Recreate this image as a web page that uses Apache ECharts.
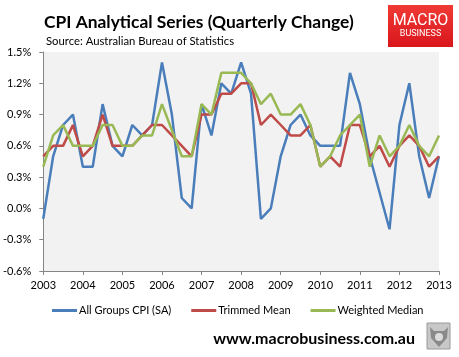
<!DOCTYPE html>
<html>
<head>
<meta charset="utf-8">
<script src="https://cdn.jsdelivr.net/npm/echarts@6/dist/echarts.min.js"></script>
<style>
html,body{margin:0;padding:0;background:#fff;}
#c{width:459px;height:357px;}
</style>
</head>
<body>
<div id="c"></div>
<script>
// Quarterly categories 2003 .. 2013 (41 quarters), labelled at each year
const years = ['2003','2004','2005','2006','2007','2008','2009','2010','2011','2012','2013'];
const quarters = [];
for (let y = 0; y < years.length; y++) {
  const nq = (y === years.length - 1) ? 1 : 4;
  for (let q = 0; q < nq; q++) quarters.push(q === 0 ? years[y] : years[y] + 'Q' + (q + 1));
}
const allGroupsCPI = [-0.1,0.5,0.8,0.9,0.4,0.4,1.0,0.6,0.5,0.8,0.7,0.8,1.4,0.9,0.1,0.0,1.0,0.7,1.2,1.1,1.4,1.1,-0.1,0.0,0.5,0.8,0.9,0.7,0.6,0.6,0.6,1.3,1.0,0.5,0.15,-0.2,0.8,1.2,0.5,0.1,0.5];
const trimmedMean = [0.5,0.6,0.6,0.8,0.5,0.6,0.9,0.6,0.6,0.6,0.7,0.8,0.8,0.7,0.6,0.5,0.9,0.9,1.1,1.1,1.2,1.2,0.8,0.9,0.8,0.7,0.7,0.8,0.4,0.5,0.4,0.8,0.8,0.5,0.6,0.4,0.6,0.7,0.6,0.4,0.5];
const weightedMedian = [0.4,0.7,0.8,0.6,0.6,0.6,0.8,0.8,0.6,0.6,0.7,0.7,1.0,0.75,0.5,0.5,1.0,0.9,1.3,1.3,1.3,1.2,1.0,1.1,0.9,0.9,1.0,0.8,0.4,0.5,0.7,0.8,0.9,0.4,0.7,0.5,0.6,0.8,0.6,0.5,0.7];
const seriesNames = ['All Groups CPI (SA)','Trimmed Mean','Weighted Median'];
const colors = ['#4a7ebb','#be4b48','#98b954'];

const FONT = 'Lato, "Open Sans", sans-serif';
const chart = echarts.init(document.getElementById('c'), null, {renderer:'canvas'});
chart.setOption({
  animation:false,
  title:[
    {text:'CPI Analytical Series (Quarterly Change)', left:39, top:9,
     textStyle:{fontFamily:FONT, fontSize:17.4, fontWeight:'bold', color:'#000'}},
    {text:'Source: Australian Bureau of Statistics', left:41, top:31,
     textStyle:{fontFamily:FONT, fontSize:11.3, fontWeight:'normal', color:'#000'}}
  ],
  grid:{left:43, right:20, top:52, bottom:86, show:true, backgroundColor:'#f2f2f2', borderWidth:0, containLabel:false},
  legend:{
    data:seriesNames, bottom:36, left:47, itemWidth:25, itemHeight:3, itemGap:20, icon:'rect',
    textStyle:{fontFamily:FONT, fontSize:11, color:'#000', padding:[0,0,0,-3]}
  },
  xAxis:[
    {type:'category', data:quarters, boundaryGap:false, position:'bottom',
     axisLine:{show:false}, axisTick:{show:false},
     axisLabel:{interval:3, fontFamily:FONT, fontSize:11, color:'#000', margin:9,
                formatter:v=>v.length===4?v:''}},
    {type:'category', data:quarters, boundaryGap:false, position:'bottom',
     axisLine:{show:true, onZero:true, lineStyle:{color:'#868686', width:1}},
     axisTick:{show:true, interval:3, length:4, lineStyle:{color:'#868686'}},
     axisLabel:{show:false}}
  ],
  yAxis:{type:'value', min:-0.6, max:1.5, interval:0.3,
    splitLine:{show:false},
    axisLine:{show:true, lineStyle:{color:'#868686'}},
    axisTick:{show:true, length:4, lineStyle:{color:'#868686'}},
    axisLabel:{fontFamily:FONT, fontSize:11, color:'#000', margin:12,
      formatter:v=>v.toFixed(1)+'%'}},
  series:[
    {name:seriesNames[0], type:'line', data:allGroupsCPI, xAxisIndex:0, symbol:'none', lineStyle:{width:2.5, color:colors[0]}, itemStyle:{color:colors[0]}, z:3},
    {name:seriesNames[1], type:'line', data:trimmedMean, xAxisIndex:0, symbol:'none', lineStyle:{width:2.5, color:colors[1]}, itemStyle:{color:colors[1]}, z:4},
    {name:seriesNames[2], type:'line', data:weightedMedian, xAxisIndex:0, symbol:'none', lineStyle:{width:2.5, color:colors[2]}, itemStyle:{color:colors[2]}, z:5}
  ],
  graphic:[
    {type:'rect', shape:{x:388, y:5, width:65, height:42},
     style:{fill:new echarts.graphic.LinearGradient(0,0,0,1,[{offset:0,color:'#f03a34'},{offset:1,color:'#d9161d'}])}},
    {type:'text', x:420.5, y:21, style:{text:'MACRO', fill:'#fff', font:'16px Roboto, sans-serif', align:'center', verticalAlign:'middle'}},
    {type:'text', x:420.5, y:34, style:{text:'BUSINESS', fill:'#fff', font:'9px Roboto, sans-serif', align:'center', verticalAlign:'middle'}},
    {type:'text', x:415, y:339, style:{text:'www.macrobusiness.com.au', fill:'#000', font:'bold 16px Lato, "Open Sans", sans-serif', align:'right', verticalAlign:'middle'}},
    {type:'rect', shape:{x:427, y:323, width:23, height:26}, style:{fill:'#c8c8c8', stroke:'#9a9a9a', lineWidth:1}},
    {type:'polygon', shape:{points:[[430,327],[434,331],[444,331],[448,327],[447,338],[439,347],[431,338]]}, style:{fill:'#8a8a8a'}},
    {type:'circle', shape:{cx:439, cy:337, r:4}, style:{fill:'#dcdcdc'}}
  ]
});
</script>
</body>
</html>
